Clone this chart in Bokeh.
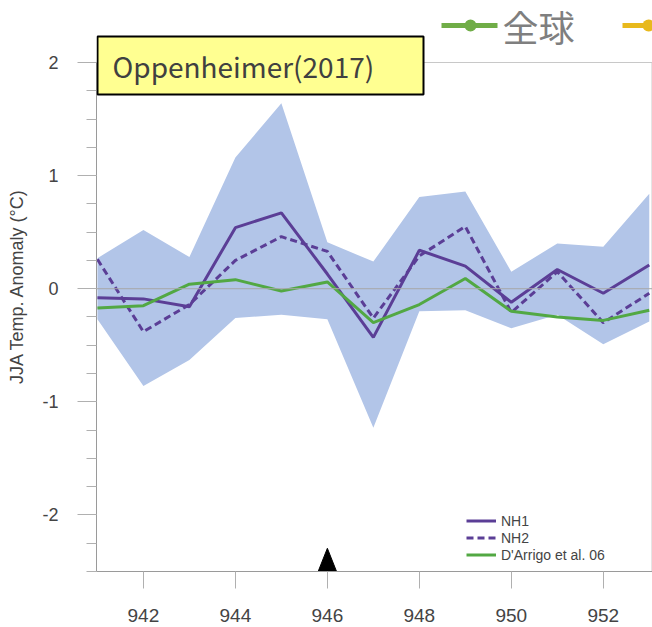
from bokeh.plotting import figure
from bokeh.models import (Range1d, SingleIntervalTicker, Span, Legend, LegendItem,
                          Label, BoxAnnotation, PrintfTickFormatter)
from bokeh.embed import file_html
from bokeh.resources import INLINE

# JJA temperature anomaly reconstructions around the 946 eruption
years = [941, 942, 943, 944, 945, 946, 947, 948, 949, 950, 951, 952, 953]
band_upper = [0.27, 0.52, 0.28, 1.16, 1.64, 0.41, 0.24, 0.81, 0.86, 0.15, 0.40, 0.37, 0.84]
band_lower = [-0.27, -0.86, -0.63, -0.26, -0.23, -0.27, -1.23, -0.20, -0.19, -0.35, -0.23, -0.49, -0.29]
nh1 = [-0.08, -0.09, -0.16, 0.54, 0.67, 0.13, -0.43, 0.34, 0.20, -0.12, 0.17, -0.04, 0.21]
nh2 = [0.26, -0.38, -0.14, 0.25, 0.46, 0.33, -0.26, 0.29, 0.55, -0.21, 0.15, -0.30, -0.04]
darrigo = [-0.17, -0.15, 0.04, 0.08, -0.02, 0.06, -0.30, -0.14, 0.09, -0.20, -0.25, -0.28, -0.19]
series_labels = ["NH1", "NH2", "D'Arrigo et al. 06"]
eruption_year = [946]

title_text = "Oppenheimer(2017)"
top_legend_text = "全球"
y_label = "JJA Temp. Anomaly (°C)"

Y_MIN, Y_MAX = -2.5, 2.0
X_MIN, X_MAX = 940.98, 953.07

PURPLE = "#5B3E96"
GREEN = "#52A843"
BAND = "#B2C5E8"
SANS = "Liberation Sans"
CJK = "Noto Sans CJK JP"

# the frame reaches the top of the canvas so the headline pieces can sit in it;
# the axis itself is bounded to the data span
p = figure(width=652, height=627, output_backend="svg", toolbar_location=None,
           x_range=Range1d(X_MIN, X_MAX), y_range=Range1d(Y_MIN, 2.548),
           min_border_left=96, min_border_right=0, min_border_top=0,
           min_border_bottom=56)
p.xgrid.visible = False
p.ygrid.visible = False
p.outline_line_color = None
p.background_fill_color = "white"
p.border_fill_color = "white"

# plot box edges (top and right)
p.add_layout(Span(location=Y_MAX, dimension="width", line_color="#c8c8c8",
                  line_width=1))
p.segment(x0=[X_MAX - 0.01], y0=[Y_MIN], x1=[X_MAX - 0.01], y1=[Y_MAX],
          line_color="#c8c8c8", line_width=1)

# uncertainty envelope
p.varea(x=years, y1=band_lower, y2=band_upper, fill_color=BAND, fill_alpha=1.0)

zero = Span(location=0, dimension="width", line_color="#a8a8a8", line_width=1,
            level="glyph")
p.add_layout(zero)

r1 = p.line(years, nh1, line_color=PURPLE, line_width=3)
r2 = p.line(years, nh2, line_color=PURPLE, line_width=3, line_dash="7 4")
r3 = p.line(years, darrigo, line_color=GREEN, line_width=3)

# eruption marker sitting on the time axis
yr = eruption_year[0]
p.patch([yr - 0.2, yr + 0.2, yr], [Y_MIN, Y_MIN, Y_MIN + 0.205],
        fill_color="black", line_color="black", line_width=1)

# axes
for ax in (p.xaxis[0], p.yaxis[0]):
    ax.axis_line_color = "#9a9a9a"
    ax.axis_line_width = 1
    ax.major_tick_line_color = "#b0b0b0"
    ax.minor_tick_line_color = "#b0b0b0"
    ax.major_tick_in = 0
    ax.minor_tick_in = 0
    ax.major_label_text_font = SANS
    ax.major_label_text_color = "#444444"

p.xaxis.ticker = SingleIntervalTicker(interval=2, num_minor_ticks=0)
p.xaxis.major_tick_out = 17
p.xaxis.major_label_text_font_size = "19px"
p.xaxis.major_label_standoff = 20

p.yaxis.bounds = (Y_MIN, Y_MAX)
p.yaxis.ticker = SingleIntervalTicker(interval=1, num_minor_ticks=4)
p.yaxis.formatter = PrintfTickFormatter(format="%d")
p.yaxis.major_tick_out = 19
p.yaxis.minor_tick_out = 10
p.yaxis.major_label_text_font_size = "18px"
p.yaxis.major_label_standoff = 19
p.yaxis.axis_label = y_label
p.yaxis.axis_label_text_font = SANS
p.yaxis.axis_label_text_font_size = "18px"
p.yaxis.axis_label_text_font_style = "normal"
p.yaxis.axis_label_text_color = "#444444"
p.yaxis.axis_label_standoff = 12

legend = Legend(items=[LegendItem(label=series_labels[0], renderers=[r1]),
                       LegendItem(label=series_labels[1], renderers=[r2]),
                       LegendItem(label=series_labels[2], renderers=[r3])],
                location=(370, 8), padding=0, margin=0, spacing=0,
                glyph_width=30, glyph_height=17, label_height=17,
                label_standoff=5, label_text_font=SANS,
                label_text_font_size="14px", label_text_color="#444444",
                border_line_color=None, background_fill_alpha=0)
p.add_layout(legend)

# title box
p.add_layout(BoxAnnotation(left=97, right=423, top=36, bottom=94,
                           left_units="canvas", right_units="canvas",
                           top_units="canvas", bottom_units="canvas",
                           fill_color="#FFFF91", fill_alpha=1.0,
                           line_color="black", line_width=2, line_alpha=1.0))
p.add_layout(Label(x=112, y=65, x_units="canvas", y_units="canvas",
                   text=title_text, text_font=CJK, text_font_size="28px",
                   text_color="#404040", text_baseline="alphabetic"))

# series key along the top edge
LEG_GREEN = "#70AD47"
LEG_GOLD = "#E8B91C"
for left, right, col in ((441, 497, LEG_GREEN), (622, 652, LEG_GOLD)):
    p.add_layout(BoxAnnotation(left=left, right=right, top=22.5, bottom=27.5,
                               left_units="canvas", right_units="canvas",
                               top_units="canvas", bottom_units="canvas",
                               fill_color=col, fill_alpha=1.0, line_color=None))
for cx, col in ((470, LEG_GREEN), (648, LEG_GOLD)):
    p.add_layout(BoxAnnotation(left=cx - 6, right=cx + 6, top=19, bottom=31,
                               left_units="canvas", right_units="canvas",
                               top_units="canvas", bottom_units="canvas",
                               border_radius=6,
                               fill_color=col, fill_alpha=1.0, line_color=None))
p.add_layout(Label(x=502, y=25, x_units="canvas", y_units="canvas",
                   text=top_legend_text, text_font=CJK, text_font_size="36px",
                   text_color="#7f7f7f", text_baseline="alphabetic"))

open("out.html", "w").write(file_html(p, INLINE))
